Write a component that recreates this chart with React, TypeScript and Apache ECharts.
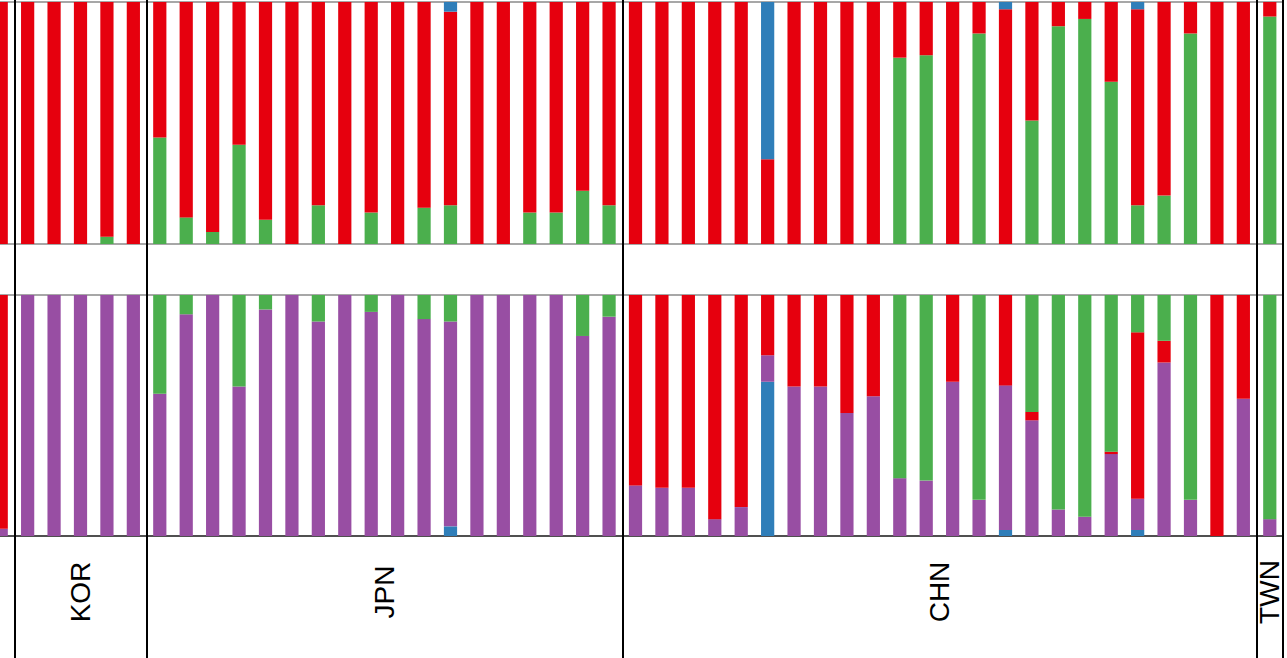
import React, { useEffect, useRef } from "react";
import * as echarts from "echarts";

// Population groups (left to right) and number of individuals in each
const groupNames = ["KOR", "JPN", "CHN", "TWN"];
const groupSizes = [5, 18, 24, 1];
const leadingBars = 1; // one clipped individual of a group left of the view

const categories: string[] = ["prev1"];
groupNames.forEach((g, gi) => {
  for (let k = 1; k <= groupSizes[gi]; k++) categories.push(g + k);
});

// Upper panel (3 ancestral components), percent per individual
const topGreen = [0, 0, 0, 0, 3, 0,
  44, 11, 5, 41, 10, 0, 16, 0, 13, 0, 15, 16, 0, 0, 13, 13, 22, 16,
  0, 0, 0, 0, 0, 0, 0, 0, 0, 0, 77, 78, 0, 87, 0, 51, 90, 93, 67, 16, 20, 87, 0, 0,
  94];
const topRed = [100, 100, 100, 100, 97, 100,
  56, 89, 95, 59, 90, 100, 84, 100, 87, 100, 85, 80, 100, 100, 87, 87, 78, 84,
  100, 100, 100, 100, 100, 35, 100, 100, 100, 100, 23, 22, 100, 13, 97, 49, 10, 7, 33, 81, 80, 13, 100, 100,
  6];
const topBlue = [0, 0, 0, 0, 0, 0,
  0, 0, 0, 0, 0, 0, 0, 0, 0, 0, 0, 4, 0, 0, 0, 0, 0, 0,
  0, 0, 0, 0, 0, 65, 0, 0, 0, 0, 0, 0, 0, 0, 3, 0, 0, 0, 0, 3, 0, 0, 0, 0,
  0];

// Lower panel (4 ancestral components), percent per individual
const botBlue = [0, 0, 0, 0, 0, 0,
  0, 0, 0, 0, 0, 0, 0, 0, 0, 0, 0, 4, 0, 0, 0, 0, 0, 0,
  0, 0, 0, 0, 0, 64, 0, 0, 0, 0, 0, 0, 0, 0, 2.5, 0, 0, 0, 0, 2.5, 0, 0, 0, 0,
  0];
const botPurple = [3, 100, 100, 100, 100, 100,
  59, 92, 100, 62, 94, 100, 89, 100, 93, 100, 90, 85, 100, 100, 100, 100, 83, 91,
  21, 20, 20, 7, 12, 11, 62, 62, 51, 58, 24, 23, 64, 15, 60, 48, 11, 8, 34, 13, 72, 15, 0, 57,
  7];
const botRed = [97, 0, 0, 0, 0, 0,
  0, 0, 0, 0, 0, 0, 0, 0, 0, 0, 0, 0, 0, 0, 0, 0, 0, 0,
  79, 80, 80, 93, 88, 25, 38, 38, 49, 42, 0, 0, 36, 0, 37.5, 3.5, 0, 0, 1, 69, 9, 0, 100, 43,
  0];
const botGreen = [0, 0, 0, 0, 0, 0,
  41, 8, 0, 38, 6, 0, 11, 0, 7, 0, 10, 11, 0, 0, 0, 0, 17, 9,
  0, 0, 0, 0, 0, 0, 0, 0, 0, 0, 76, 77, 0, 85, 0, 48.5, 89, 92, 65, 15.5, 19, 85, 0, 0,
  93];

const COLORS = {
  red: "#E6000E",
  green: "#4BAF4D",
  blue: "#2F7EB9",
  purple: "#984EA3",
};

export default function App() {
  const ref = useRef<HTMLDivElement>(null);

  useEffect(() => {
    const chart = echarts.init(ref.current!, null, { renderer: "svg" });
    const n = categories.length;
    const gridBase = { left: 0, width: 1295 };

    // group boundaries (in category units) for the separator lines
    const boundaries: number[] = [];
    let acc = leadingBars;
    boundaries.push(acc - 0.5);
    groupSizes.forEach((s) => {
      acc += s;
      boundaries.push(acc - 0.5);
    });

    const hiddenCat = (gridIndex: number, line: boolean) => ({
      type: "category",
      data: categories,
      gridIndex,
      axisLine: { show: line, lineStyle: { color: "#333", width: 1.5 } },
      axisTick: { show: false },
      axisLabel: { show: false },
      splitLine: { show: false },
    });

    const bar = (name: string, data: number[], color: string, idx: number, stack: string) => ({
      type: "bar",
      name,
      data,
      stack,
      xAxisIndex: idx,
      yAxisIndex: idx,
      barWidth: "50%",
      itemStyle: { color },
      silent: true,
    });

    chart.setOption({
      animation: false,
      grid: [
        { ...gridBase, top: 2, height: 242, show: true, borderColor: "#8a8a8a", borderWidth: 1.5 },
        { ...gridBase, top: 295, height: 241, show: true, borderColor: "#8a8a8a", borderWidth: 1.5 },
        { ...gridBase, top: 0, height: 658 },
      ],
      xAxis: [
        hiddenCat(0, false),
        hiddenCat(1, true),
        { type: "value", gridIndex: 2, min: -0.5, max: n - 0.5, show: false },
      ],
      yAxis: [0, 1, 2].map((i) => ({ type: "value", gridIndex: i, min: 0, max: 100, show: false })),
      series: [
        bar("K3 green", topGreen, COLORS.green, 0, "top"),
        bar("K3 red", topRed, COLORS.red, 0, "top"),
        bar("K3 blue", topBlue, COLORS.blue, 0, "top"),
        bar("K4 blue", botBlue, COLORS.blue, 1, "bot"),
        bar("K4 purple", botPurple, COLORS.purple, 1, "bot"),
        bar("K4 red", botRed, COLORS.red, 1, "bot"),
        bar("K4 green", botGreen, COLORS.green, 1, "bot"),
        {
          type: "line",
          xAxisIndex: 2,
          yAxisIndex: 2,
          data: [],
          silent: true,
          markLine: {
            silent: true,
            symbol: ["none", "none"],
            label: { show: false },
            emphasis: { disabled: true },
            lineStyle: { color: "#000", width: 2, type: "solid" },
            data: boundaries.map((b) => ({ xAxis: b })),
          },
        },
      ],
    });

    // group labels centred under each group
    let start = leadingBars;
    const texts = groupNames.map((g, gi) => {
      const end = start + groupSizes[gi] - 1;
      const x = chart.convertToPixel({ xAxisIndex: 2 }, (start + end) / 2) as number;
      start = end + 1;
      return {
        type: "text",
        x,
        y: 592,
        rotation: Math.PI / 2,
        silent: true,
        style: {
          text: g,
          fill: "#000",
          font: '28px "Liberation Sans", Arial, sans-serif',
          align: "center",
          verticalAlign: "middle",
        },
      };
    });
    chart.setOption({ graphic: texts });

    return () => chart.dispose();
  }, []);

  return (
    <div
      ref={ref}
      style={{ position: "absolute", left: -12, top: 0, width: 1299, height: 658, background: "#fff" }}
    />
  );
}
